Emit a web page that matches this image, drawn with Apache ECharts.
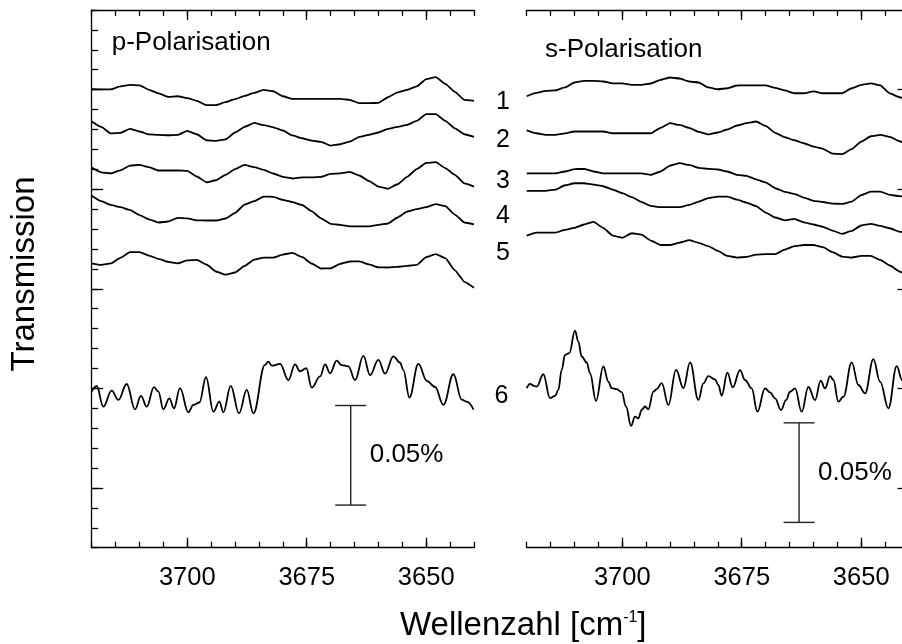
<!DOCTYPE html>
<html>
<head>
<meta charset="utf-8">
<script src="https://cdn.jsdelivr.net/npm/echarts@6/dist/echarts.min.js"></script>
<style>html,body{margin:0;padding:0;background:#fff}#chart{width:902px;height:644px}</style>
</head>
<body>
<div id="chart"></div>
<script>
// ---------- data (transmission in units of 0.01 %, arbitrary offsets) ----------
const wavenumbers = [3720,3718,3716,3714,3712,3710,3708,3706,3704,3702,3700,3698,3696,3694,3692,3690,3688,3686,3684,3682,3680,3678,3676,3674,3672,3670,3668,3666,3664,3662,3660,3658,3656,3654,3652,3650,3648,3646,3644,3642,3640];

const pTrace1 = [23.02,23.01,23.01,23.16,23.24,23.22,22.99,22.81,22.64,22.67,22.57,22.44,22.22,22.22,22.37,22.52,22.69,22.84,22.99,22.92,22.67,22.54,22.54,22.54,22.54,22.54,22.54,22.49,22.32,22.32,22.34,22.62,22.86,22.99,23.16,23.53,23.63,23.29,22.89,22.49,22.44];
const pTrace2 = [21.40,21.13,20.80,20.83,21.03,20.90,20.75,20.73,20.71,20.73,20.93,20.76,20.46,20.43,20.50,20.85,21.13,21.33,21.22,21.11,20.95,20.70,20.56,20.44,20.38,20.19,20.26,20.39,20.63,20.73,20.85,21.03,21.13,21.23,21.43,21.77,21.77,21.43,21.06,20.76,20.63];
const pTrace3 = [19.09,18.85,18.80,18.95,19.19,19.22,19.11,18.94,18.94,18.94,18.92,18.64,18.35,18.45,18.72,19.01,19.22,19.11,18.97,18.79,18.62,18.54,18.60,18.60,18.62,18.77,18.80,18.87,18.69,18.42,18.13,18.02,18.25,18.62,19.01,19.32,19.36,19.06,18.72,18.29,18.13];
const pTrace4 = [17.67,17.40,17.21,17.10,16.96,16.70,16.49,16.33,16.38,16.56,16.54,16.44,16.43,16.43,16.53,16.81,17.23,17.40,17.63,17.62,17.47,17.35,17.21,16.90,16.54,16.26,16.21,16.13,16.13,16.13,16.21,16.28,16.58,16.88,17.00,17.10,17.25,17.15,16.73,16.33,16.24];
const pTrace5 = [14.28,14.20,14.28,14.55,14.84,14.84,14.67,14.50,14.35,14.28,14.43,14.45,14.22,13.87,13.71,13.82,14.15,14.47,14.57,14.57,14.72,14.80,14.60,14.27,14.02,14.03,14.25,14.37,14.38,14.23,14.08,14.07,14.10,14.15,14.20,14.59,14.74,14.54,13.93,13.35,13.05];

const sTrace1 = [22.67,22.84,22.94,22.96,23.11,23.36,23.44,23.44,23.41,23.32,23.32,23.24,23.24,23.31,23.49,23.61,23.56,23.41,23.36,23.11,23.02,23.07,23.21,23.22,23.22,23.22,23.09,22.96,22.82,22.82,22.91,22.82,22.82,22.82,23.07,23.24,23.32,23.22,22.81,22.62,22.49];
const sTrace2 = [20.96,20.81,20.73,20.73,20.80,20.90,20.90,20.90,20.90,20.81,20.81,20.81,20.81,20.81,21.08,21.32,21.23,21.08,20.88,20.75,20.85,21.00,21.20,21.32,21.40,21.18,20.83,20.61,20.46,20.31,20.14,20.03,19.79,19.76,20.01,20.39,20.66,20.73,20.63,20.41,20.23];
const sTrace3 = [18.80,18.80,18.80,18.80,18.89,19.01,19.02,18.89,18.80,18.80,18.80,18.80,18.80,18.72,18.89,19.19,19.31,19.22,19.07,19.02,18.99,18.89,18.72,18.67,18.50,18.34,18.05,17.87,17.77,17.58,17.42,17.36,17.28,17.26,17.38,17.70,17.88,17.88,17.72,17.65,17.60];
const sTrace4 = [17.92,17.92,17.92,17.98,18.20,18.30,18.30,18.23,18.15,17.98,17.80,17.60,17.36,17.16,17.10,17.10,17.10,17.21,17.38,17.55,17.63,17.63,17.48,17.33,17.15,16.83,16.58,16.44,16.51,16.34,16.23,16.11,15.92,15.76,15.91,16.18,16.26,16.16,16.04,15.87,15.76];
const sTrace5 = [15.67,15.82,15.82,15.82,15.96,16.06,16.23,16.36,16.06,15.67,15.56,15.79,15.72,15.42,15.20,15.20,15.32,15.44,15.31,15.14,14.90,14.65,14.57,14.60,14.72,14.74,14.74,14.97,15.14,15.20,15.20,15.09,14.84,14.62,14.57,14.65,14.65,14.45,14.17,13.87,13.61];

// trace 6 (difference spectra), read as [wavenumber, value] at its turning points
const pNoise = [[3720.0,7.84],[3718.96,8.12],[3717.57,7.08],[3715.82,7.89],[3714.43,7.42],[3712.68,8.22],[3710.94,6.95],[3709.68,7.62],[3708.5,7.08],[3706.96,8.06],[3706.05,7.84],[3705.01,6.95],[3703.75,7.50],[3702.78,7.00],[3701.52,8.01],[3699.78,6.80],[3698.73,7.17],[3697.47,7.29],[3696.07,8.56],[3694.54,6.83],[3693.28,7.34],[3692.45,6.80],[3690.91,8.12],[3689.17,6.75],[3687.56,7.92],[3686.17,6.75],[3683.73,9.18],[3683.03,9.34],[3682.33,9.14],[3680.59,9.23],[3678.84,8.42],[3677.45,9.21],[3676.4,8.86],[3675.1,9.01],[3673.96,8.04],[3672.2,8.60],[3671.17,9.21],[3670.12,8.76],[3668.73,9.39],[3667.68,9.17],[3666.29,9.11],[3664.89,8.42],[3663.15,9.63],[3661.75,8.67],[3660.01,9.43],[3658.61,8.74],[3656.87,9.61],[3655.47,9.29],[3654.78,8.92],[3653.52,7.54],[3651.64,9.23],[3649.89,8.38],[3648.15,8.07],[3646.4,7.17],[3644.31,8.71],[3642.57,7.44],[3641.52,7.33],[3640.1,6.93]];
const sNoise = [[3720.0,8.01],[3719.31,8.23],[3718.47,8.13],[3717.91,8.09],[3716.52,8.71],[3715.12,7.51],[3714.08,7.62],[3713.38,7.92],[3712.68,8.93],[3711.98,9.68],[3711.08,9.77],[3709.89,10.90],[3709.19,10.35],[3708.50,9.60],[3707.45,9.30],[3706.75,8.76],[3705.50,7.37],[3703.96,9.10],[3702.91,8.34],[3702.22,8.01],[3701.17,7.96],[3700.12,7.81],[3699.22,7.09],[3698.17,6.12],[3697.33,6.58],[3696.63,6.50],[3695.94,6.92],[3695.24,7.09],[3694.54,6.95],[3693.49,7.84],[3692.80,7.96],[3691.75,8.26],[3690.35,7.17],[3688.75,8.93],[3687.21,8.01],[3685.81,9.31],[3684.07,7.42],[3683.03,8.25],[3681.99,8.62],[3680.59,8.45],[3679.89,8.17],[3679.20,7.63],[3678.01,8.79],[3676.89,8.05],[3675.36,8.92],[3674.31,8.42],[3672.92,8.00],[3671.73,6.83],[3670.13,8.00],[3669.08,7.80],[3668.03,7.50],[3666.78,6.91],[3665.73,7.41],[3664.89,7.83],[3663.85,8.00],[3662.45,6.83],[3661.06,8.08],[3659.66,7.41],[3658.48,8.39],[3657.57,8.00],[3656.52,8.62],[3655.82,8.42],[3654.78,7.33],[3653.73,7.58],[3651.99,9.31],[3650.59,8.17],[3649.20,7.75],[3647.45,9.47],[3646.06,8.34],[3644.31,7.00],[3642.57,9.12],[3641.45,8.42],[3640.0,7.60]];

const xRange = [3640, 3720];
const xMajorTicks = [3700, 3675, 3650];
const yRange = [0, 27];
const yMajorTicks = [3, 8, 13, 18, 23];
const traceLabels = ['1', '2', '3', '4', '5', '6'];
const panelTitles = ['p-Polarisation', 's-Polarisation'];
const scaleBarWn = [3665.8, 3663.0];
const scaleBarLow = [2.14, 1.27];
const scaleBarSpan = 5;            // 0.05 % in units of 0.01 %
const scaleBarText = '0.05%';
const xTitle = 'Wellenzahl [cm{sup|-1}]';
const yTitle = 'Transmission';

// ---------- layout / style ----------
const FONT = '"Liberation Sans", Arial, Helvetica, sans-serif';
const INK = '#000';
const AXIS_W = 1.3;
const GRID_TOP = 10, GRID_H = 537.7, GRID_W = 382.3;
const panels = [
  { left: 91.7, ySide: 'left', traces: [pTrace1, pTrace2, pTrace3, pTrace4, pTrace5], noise: pNoise, bar: 0 },
  { left: 526.7, ySide: 'right', traces: [sTrace1, sTrace2, sTrace3, sTrace4, sTrace5], noise: sNoise, bar: 1 }
];

const grid = [], xAxis = [], yAxis = [], series = [];
const lineSt = { color: INK, width: AXIS_W };

panels.forEach((p, i) => {
  const rect = { left: p.left, top: GRID_TOP, width: GRID_W, height: GRID_H, containLabel: false, outerBoundsMode: 'none' };
  grid.push(Object.assign({}, rect), Object.assign({}, rect));
  const gMinor = 2 * i, gMajor = 2 * i + 1;
  const xBase = { type: 'value', min: xRange[0], max: xRange[1], inverse: true, splitLine: { show: false } };
  // minor x ticks (bottom, top) with frame lines
  xAxis.push(Object.assign({}, xBase, { gridIndex: gMinor, position: 'bottom', interval: 5,
    axisLine: { show: true, onZero: false, lineStyle: lineSt }, axisTick: { show: true, inside: true, length: 6, lineStyle: lineSt },
    axisLabel: { show: false } }));
  xAxis.push(Object.assign({}, xBase, { gridIndex: gMinor, position: 'top', interval: 5,
    axisLine: { show: true, onZero: false, lineStyle: lineSt }, axisTick: { show: true, inside: true, length: 6, lineStyle: lineSt },
    axisLabel: { show: false } }));
  // major x ticks + labels
  xAxis.push(Object.assign({}, xBase, { gridIndex: gMajor, position: 'bottom',
    axisLine: { show: false, onZero: false }, axisTick: { show: true, inside: true, length: 10, lineStyle: lineSt, customValues: xMajorTicks },
    axisLabel: { show: true, customValues: xMajorTicks, margin: 17, color: INK, fontSize: 25.5, fontFamily: FONT, formatter: v => String(v) } }));
  xAxis.push(Object.assign({}, xBase, { gridIndex: gMajor, position: 'top',
    axisLine: { show: false, onZero: false }, axisTick: { show: true, inside: true, length: 10, lineStyle: lineSt, customValues: xMajorTicks },
    axisLabel: { show: false } }));
  const yBase = { type: 'value', min: yRange[0], max: yRange[1], position: p.ySide, splitLine: { show: false }, axisLabel: { show: false } };
  yAxis.push(Object.assign({}, yBase, { gridIndex: gMinor, interval: 1,
    axisLine: { show: true, onZero: false, lineStyle: lineSt }, axisTick: { show: true, inside: true, length: 6.5, lineStyle: lineSt } }));
  yAxis.push(Object.assign({}, yBase, { gridIndex: gMajor,
    axisLine: { show: false, onZero: false }, axisTick: { show: true, inside: true, length: 11.5, lineStyle: lineSt, customValues: yMajorTicks } }));

  const xi = 4 * i, yi = 2 * i;
  p.traces.forEach(tr => {
    series.push({ type: 'line', xAxisIndex: xi, yAxisIndex: yi, data: wavenumbers.map((w, k) => [w, tr[k]]),
      showSymbol: false, symbol: 'none', smooth: 0.15, smoothMonotone: 'x', silent: true,
      lineStyle: { color: INK, width: 1.8 } });
  });
  series.push({ type: 'line', xAxisIndex: xi, yAxisIndex: yi, data: p.noise,
    showSymbol: false, symbol: 'none', smooth: 0.4, smoothMonotone: 'x', silent: true,
    lineStyle: { color: INK, width: 1.8 } });
  // 0.05 % scale bar
  series.push({ type: 'custom', xAxisIndex: xi, yAxisIndex: yi, silent: true,
    dimensions: ['wn', 'low', 'high'], encode: { x: 0, y: [1, 2] },
    data: [[scaleBarWn[p.bar], scaleBarLow[p.bar], scaleBarLow[p.bar] + scaleBarSpan]],
    renderItem: (params, api) => {
      const wn = api.value(0), lo = api.value(1), hi = api.value(2);
      const top = api.coord([wn, hi]), bot = api.coord([wn, lo]);
      const cap = 15.5;
      const st = { stroke: '#222', lineWidth: 1.4 };
      return { type: 'group', children: [
        { type: 'line', shape: { x1: top[0], y1: top[1], x2: bot[0], y2: bot[1] }, style: st },
        { type: 'line', shape: { x1: top[0] - cap, y1: top[1], x2: top[0] + cap, y2: top[1] }, style: st },
        { type: 'line', shape: { x1: bot[0] - cap, y1: bot[1], x2: bot[0] + cap, y2: bot[1] }, style: st },
        { type: 'text', x: top[0] + 19, y: (top[1] + bot[1]) / 2,
          style: { text: scaleBarText, fill: INK, fontSize: 26, fontFamily: FONT, align: 'left', verticalAlign: 'middle' } }
      ] };
    } });
});

const labelY = [101.7, 140, 181, 215.8, 253.3, 396];
const graphicEls = [
  { type: 'text', x: 111.7, y: 43, style: { text: panelTitles[0], fill: INK, fontSize: 26, fontFamily: FONT, align: 'left', verticalAlign: 'middle' } },
  { type: 'text', x: 545, y: 49.5, style: { text: panelTitles[1], fill: INK, fontSize: 26, fontFamily: FONT, align: 'left', verticalAlign: 'middle' } },
  { type: 'text', x: 25, y: 274, rotation: Math.PI / 2,
    style: { text: yTitle, fill: INK, fontSize: 33, fontFamily: FONT, align: 'center', verticalAlign: 'middle' } },
  { type: 'text', x: 400, y: 626,
    style: { text: xTitle, fill: INK, fontSize: 33, fontFamily: FONT, lineHeight: 33, align: 'left', verticalAlign: 'middle',
      rich: { sup: { fontSize: 16, fontFamily: FONT, fill: INK, lineHeight: 18, verticalAlign: 'top' } } } }
];
traceLabels.forEach((t, k) => {
  graphicEls.push({ type: 'text', x: k < 5 ? 503 : 501.5, y: labelY[k],
    style: { text: t, fill: INK, fontSize: 25, fontFamily: FONT, align: 'center', verticalAlign: 'middle' } });
});

const chart = echarts.init(document.getElementById('chart'), null, { renderer: 'canvas', width: 902, height: 644 });
chart.setOption({
  animation: false,
  backgroundColor: '#fff',
  grid, xAxis, yAxis, series,
  graphic: { elements: graphicEls }
});
</script>
</body>
</html>
